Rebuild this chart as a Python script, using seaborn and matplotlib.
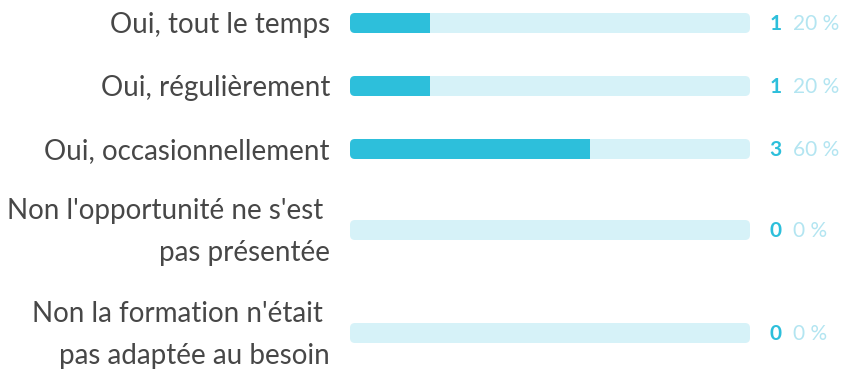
import matplotlib
matplotlib.use("Agg")
import matplotlib.pyplot as plt
from matplotlib.patches import FancyBboxPatch, Rectangle
import numpy as np
import pandas as pd
import seaborn as sns

# Survey answers and response counts
categories = [
    "Oui, tout le temps",
    "Oui, régulièrement",
    "Oui, occasionnellement",
    "Non l'opportunité ne s'est \npas présentée",
    "Non la formation n'était \npas adaptée au besoin",
]
counts = [1, 1, 3, 0, 0]
total = sum(counts)
percent_labels = ["20 %", "20 %", "60 %", "0 %", "0 %"]

# Layout: vertical centre of each row (pixels from the top)
row_pos = [23, 86, 149, 230, 333]
BAR_PX = 20
RADIUS_PX = 5

DARK = "#2dbfdb"
TRACK = "#d6f2f8"
PCT = "#b3e5f1"
LABEL = "#474747"

sns.set_theme(style="white")
plt.rcParams["font.family"] = ["Lato", "DejaVu Sans"]

W, H = 845, 373
fig = plt.figure(figsize=(W / 100, H / 100), dpi=100)
x0_px, x1_px = 350, 750
ax = fig.add_axes([x0_px / W, 0, (x1_px - x0_px) / W, 1])

df = pd.DataFrame({"category": categories, "count": counts,
                   "total": [total] * len(counts), "pos": row_pos})

width = BAR_PX / np.min(np.diff(row_pos))
sns.barplot(data=df, x="total", y="pos", orient="h", native_scale=True,
            color=TRACK, width=width, ax=ax, saturation=1, errorbar=None)
n_track = len(ax.patches)
sns.barplot(data=df, x="count", y="pos", orient="h", native_scale=True,
            color=DARK, width=width, ax=ax, saturation=1, errorbar=None)

ax.set_xlim(0, total)
ax.set_ylim(H, 0)
ax.axis("off")

px_per_x = (x1_px - x0_px) / total
r = RADIUS_PX / px_per_x
aspect = RADIUS_PX / r

patches = list(ax.patches)
tracks, fills = patches[:n_track], patches[n_track:]
for tr, fl in zip(tracks, fills):
    x, y = tr.get_x(), tr.get_y()
    w, h = tr.get_width(), tr.get_height()
    rounded = FancyBboxPatch((x, y), w, h,
                             boxstyle=f"round,pad=0,rounding_size={r}",
                             mutation_aspect=aspect, facecolor=TRACK,
                             edgecolor="none", transform=ax.transData)
    ax.add_patch(rounded)
    if fl.get_width() > 0:
        bar = Rectangle((fl.get_x(), fl.get_y()), fl.get_width(), fl.get_height(),
                        facecolor=DARK, edgecolor="none")
        ax.add_patch(bar)
        bar.set_clip_path(rounded)
    tr.remove()
    fl.remove()

for cat, c, pct, y in zip(categories, counts, percent_labels, row_pos):
    ax.text(-20 / px_per_x, y + 2, cat, ha="right", va="center", fontsize=20,
            color=LABEL, linespacing=1.8, clip_on=False)
    ax.text(total + 32 / px_per_x, y + 1, str(c), ha="right", va="center",
            fontsize=15, fontweight="bold", color=DARK, clip_on=False)
    ax.text(total + 43 / px_per_x, y + 1, pct, ha="left", va="center",
            fontsize=15, color=PCT, clip_on=False)

fig.savefig("out.png", dpi=100)
